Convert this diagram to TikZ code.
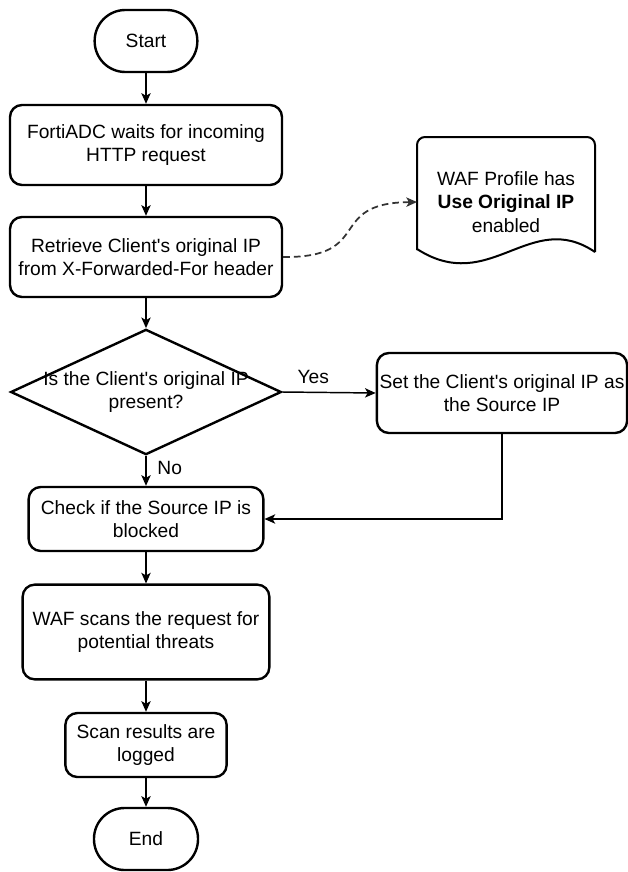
\documentclass[tikz,border=0pt]{standalone}
\usepackage{fontspec}
\setmainfont{Liberation Sans}
\usepackage{tikz}
\usetikzlibrary{shapes.geometric}
\usetikzlibrary{arrows.meta}
\tikzset{proc/.style={draw,line width=1.8pt,rounded corners=9pt,align=center,inner sep=2pt},
 term/.style={draw,line width=1.8pt,rounded corners=23pt,minimum height=46.5pt},
 decide/.style={draw,diamond,line width=1.8pt,inner sep=0pt,minimum width=203pt,minimum height=94pt},
 flow/.style={line width=1.1pt,-{Stealth[length=8pt,width=7pt,inset=2pt]}},
 lbl/.style={inner sep=0pt},
 }
\newcommand{\apos}{\textquotesingle}

\begin{document}
\begin{tikzpicture}[x=0.75pt,y=-0.75pt,font=\fontsize{14.4}{17.8}\selectfont]
        \useasboundingbox (0,0) rectangle (628,872);
        \node[term,minimum width=77pt] (start) at (146,41) {Start};
        \node[proc,minimum width=204pt,minimum height=60pt] (wait) at (146,145) {FortiADC waits for incoming\\HTTP request};
        \node[proc,minimum width=204pt,minimum height=60pt] (fetch) at (146,257) {Retrieve Client\apos s original IP\\from X-Forwarded-For header};
        \node[decide] (dec) at (146,392) {};
        \node[lbl,align=center] (dectext) at (dec.center) {Is the Client\apos s original IP\\present?};
        \node[proc,minimum width=187pt,minimum height=60pt] (setip) at (502,393) {Set the Client\apos s original IP as\\the Source IP};
        \node[proc,minimum width=176pt,minimum height=48pt] (check) at (146,519) {Check if the Source IP is\\blocked};
        \node[proc,minimum width=185pt,minimum height=71pt] (scan) at (146,632) {WAF scans the request for\\potential threats};
        \node[proc,minimum width=121pt,minimum height=48pt] (log) at (146,745) {Scan results are\\logged};
        \node[term,minimum width=78pt] (end) at (146,839) {End};
        \draw[line width=1.5pt,rounded corners=6pt] (417,250) -- (417,137) -- (595,137) -- (595,252);
        \draw[line width=1.5pt] (595,252) .. controls (530,208) and (490,296) .. (417,249);
        \node[lbl,align=center] (doc) at (506,202) {WAF Profile has\\\textbf{Use Original IP}\\enabled};
        \coordinate (docin) at (417,202);
        \draw[flow] (start) -- (wait);
        \draw[flow] (wait) -- (fetch);
        \draw[flow] (fetch) -- (dec);
        \draw[flow] (dec.east) -- node[lbl,above,pos=0.33,yshift=6pt] (yes) {Yes} (setip.west);
        \draw[flow] (dec.south) -- node[lbl,right,pos=0.4,xshift=8pt] (no) {No} (check.north);
        \draw[flow] (setip.south) |- (check.east);
        \draw[flow] (check) -- (scan);
        \draw[flow] (scan) -- (log);
        \draw[flow] (log) -- (end);
        \draw[flow,dashed,dash pattern=on 5pt off 3pt,draw=black!80,line width=1.3pt] (fetch.east) .. controls (375,258) and (325,203) .. (docin);
    \end{tikzpicture}
\end{document}
